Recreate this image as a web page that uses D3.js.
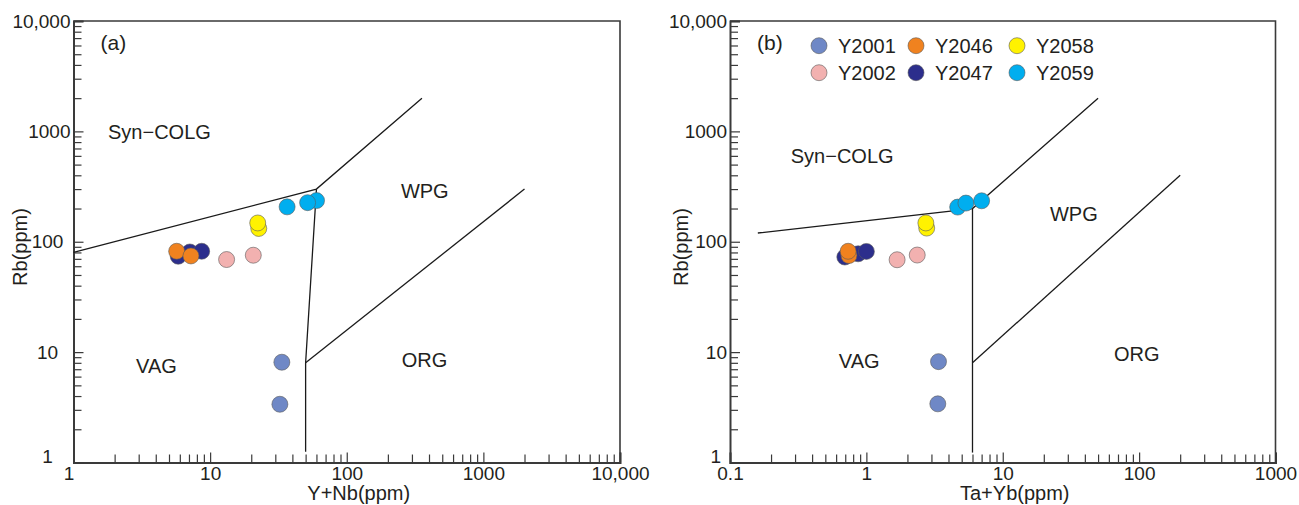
<!DOCTYPE html>
<html>
<head>
<meta charset="utf-8">
<script src="https://cdn.jsdelivr.net/npm/d3@7"></script>
<style>
  html, body { margin: 0; padding: 0; background: #fff; }
  svg { display: block; font-family: "Liberation Sans", Arial, Helvetica, sans-serif; }
  text { fill: #231f20; }
</style>
</head>
<body>
<svg id="chart" width="1299" height="505"></svg>
<script>
// ---- series ----
const seriesNames  = ["Y2001", "Y2002", "Y2046", "Y2047", "Y2058", "Y2059"];
const seriesColors = ["#6f88c6", "#f2b1b0", "#f0821f", "#2c2e8c", "#fff200", "#00aeef"];

// ---- panel (a): Rb vs Y+Nb, in drawing order ----
const aSeries = ["Y2001", "Y2001", "Y2002", "Y2002", "Y2047", "Y2047", "Y2047", "Y2046", "Y2046", "Y2058", "Y2058", "Y2059", "Y2059", "Y2059"];
const aYNb    = [33.5, 32.4, 13.2, 20.7, 5.84, 7.11, 8.67, 5.69, 7.24, 22.7, 22.3, 60.1, 36.6, 51.7];
const aRb     = [8.1, 3.37, 69, 75.5, 73.9, 80.8, 82, 82, 74.4, 132, 148, 236, 207, 226];

// ---- panel (b): Rb vs Ta+Yb, in drawing order ----
const bSeries = ["Y2001", "Y2001", "Y2002", "Y2002", "Y2047", "Y2047", "Y2047", "Y2046", "Y2046", "Y2058", "Y2058", "Y2059", "Y2059", "Y2059"];
const bTaYb   = [3.38, 3.34, 1.68, 2.36, 0.695, 0.87, 1.0, 0.745, 0.735, 2.77, 2.73, 4.67, 5.37, 7.0];
const bRb     = [8.2, 3.4, 68.7, 75.8, 72.7, 77.8, 81.7, 75, 82, 133, 148, 206, 224, 235];

// ---- discrimination boundaries ----
const aLine1X = [1, 60, 355],   aLine1Y = [80, 300, 2000];
const aLine2X = [60, 50, 50],   aLine2Y = [300, 8, 1.25];
const aLine3X = [50, 2000],     aLine3Y = [8, 300];
const bLine1X = [0.16, 6, 50],  bLine1Y = [120, 200, 2000];
const bLine2X = [6, 6, 6],      bLine2Y = [200, 8, 1.23];
const bLine3X = [6, 200],       bLine3Y = [8, 400];

// ---- axis ticks ----
const yTicks       = [1, 10, 100, 1000, 10000];
const yTickLabels  = ["1", "10", "100", "1000", "10,000"];
const aXTicks      = [1, 10, 100, 1000, 10000];
const aXTickLabels = ["1", "10", "100", "1000", "10,000"];
const bXTicks      = [0.1, 1, 10, 100, 1000];
const bXTickLabels = ["0.1", "1", "10", "100", "1000"];

// ---- region names ----
const regionNames = ["Syn\u2212COLG", "WPG", "VAG", "ORG"];

const svg = d3.select("#chart");
const color = d3.scaleOrdinal(seriesNames, seriesColors);

function minorTicks(domain) {
  const out = [];
  const lo = Math.round(Math.log10(domain[0])), hi = Math.round(Math.log10(domain[1]));
  for (let e = lo; e < hi; e++) {
    for (let m = 2; m <= 9; m++) out.push(m * Math.pow(10, e));
  }
  return out;
}

function panel(opt) {
  const x = d3.scaleLog().domain(opt.xDomain).range(opt.xRange);
  const y = d3.scaleLog().domain([1, 10000]).range([462.5, 21]);
  const g = svg.append("g");
  const [x0, x1] = opt.xRange;
  const yb = 462.5, yt = 21;

  // frame (top and right)
  g.append("path")
    .attr("d", `M${x0},${yt}H${x1}V${yb}`)
    .attr("fill", "none").attr("stroke", "#3a3a3a").attr("stroke-width", 1.6);

  // minor ticks
  g.append("g").attr("transform", `translate(0,${yb})`)
    .call(d3.axisBottom(x).tickValues(minorTicks(opt.xDomain)).tickSize(-8).tickFormat(""))
    .call(s => s.select(".domain").remove())
    .selectAll("line").attr("stroke", "#3a3a3a").attr("stroke-width", 1.2);
  g.append("g").attr("transform", `translate(${x0},0)`)
    .call(d3.axisLeft(y).tickValues(minorTicks([1, 10000])).tickSize(-8).tickFormat(""))
    .call(s => s.select(".domain").remove())
    .selectAll("line").attr("stroke", "#3a3a3a").attr("stroke-width", 1.2);

  // major ticks + labels
  const xa = g.append("g").attr("transform", `translate(0,${yb})`)
    .call(d3.axisBottom(x).tickValues(opt.xTicks).tickSize(-10).tickPadding(4)
      .tickFormat((d, i) => opt.xLabels[i]));
  xa.select(".domain").attr("stroke", "#3a3a3a").attr("stroke-width", 2);
  xa.selectAll("line").attr("stroke", "#3a3a3a").attr("stroke-width", 1.2);
  xa.selectAll("text").attr("font-size", 19).attr("fill", "#231f20")
    .attr("font-family", "Liberation Sans, Arial, sans-serif");
  xa.selectAll(".tick").filter((d, i) => i === 0).select("text").attr("dx", opt.originDx);

  const ya = g.append("g").attr("transform", `translate(${x0},0)`)
    .call(d3.axisLeft(y).tickValues(yTicks).tickSize(-10).tickPadding(3)
      .tickFormat((d, i) => yTickLabels[i]));
  ya.select(".domain").attr("stroke", "#3a3a3a").attr("stroke-width", 2);
  ya.selectAll("line").attr("stroke", "#3a3a3a").attr("stroke-width", 1.2);
  ya.selectAll("text").attr("font-size", 19).attr("fill", "#231f20")
    .attr("font-family", "Liberation Sans, Arial, sans-serif");
  opt.yLabelTweak(ya);

  // axis titles
  g.append("text")
    .attr("x", (x0 + x1) / 2 + opt.xTitleDx).attr("y", 500)
    .attr("text-anchor", "middle").attr("font-size", 20)
    .text(opt.xTitle);
  g.append("text")
    .attr("transform", `translate(${opt.yTitleX},247) rotate(-90)`)
    .attr("text-anchor", "middle").attr("font-size", 20)
    .text("Rb(ppm)");

  // panel letter
  g.append("text").attr("x", x0 + 27).attr("y", 50).attr("font-size", 21).text(opt.letter);

  // boundaries
  const line = d3.line().x(d => x(d[0])).y(d => y(d[1]));
  opt.lines.forEach(([lx, ly]) => {
    g.append("path")
      .attr("d", line(lx.map((v, i) => [v, ly[i]])))
      .attr("fill", "none").attr("stroke", "#1a1a1a").attr("stroke-width", 1.3);
  });

  // region names
  opt.regions.forEach(([name, vx, vy]) => {
    g.append("text").attr("x", x(vx)).attr("y", y(vy)).attr("dy", "0.36em")
      .attr("font-size", 20).text(name);
  });

  // samples
  g.append("g").selectAll("circle")
    .data(opt.series.map((s, i) => ({ s, vx: opt.xs[i], vy: opt.ys[i] })))
    .join("circle")
    .attr("cx", d => x(d.vx)).attr("cy", d => y(d.vy)).attr("r", 8)
    .attr("fill", d => color(d.s))
    .attr("stroke", "#5a5a5a").attr("stroke-width", 0.6);

  return { g, x, y, x0 };
}

// (a) Rb – (Y+Nb)
panel({
  xDomain: [1, 10000], xRange: [73.5, 620], xTicks: aXTicks, xLabels: aXTickLabels,
  originDx: -5, xTitle: "Y+Nb(ppm)", xTitleDx: 12, yTitleX: 27, letter: "(a)",
  yLabelTweak: ya => {
    ya.selectAll(".tick").filter(d => d < 1000).select("text")
      .attr("text-anchor", "middle").attr("x", -26);
    ya.selectAll(".tick").filter(d => d === 1).select("text").attr("dy", "0.0em");
  },
  lines: [[aLine1X, aLine1Y], [aLine2X, aLine2Y], [aLine3X, aLine3Y]],
  regions: [[regionNames[0], 1.79, 1000], [regionNames[1], 249, 287], [regionNames[2], 2.87, 7.45], [regionNames[3], 253, 8.6]],
  series: aSeries, xs: aYNb, ys: aRb
});

// (b) Rb – (Ta+Yb)
const pb = panel({
  xDomain: [0.1, 1000], xRange: [730, 1275.5], xTicks: bXTicks, xLabels: bXTickLabels,
  originDx: 0, xTitle: "Ta+Yb(ppm)", xTitleDx: 12, yTitleX: 688, letter: "(b)",
  yLabelTweak: ya => {
    ya.selectAll(".tick").filter(d => d === 1).select("text").attr("dx", -6).attr("dy", "0.0em");
  },
  lines: [[bLine1X, bLine1Y], [bLine2X, bLine2Y], [bLine3X, bLine3Y]],
  regions: [[regionNames[0], 0.279, 600], [regionNames[1], 22.2, 179], [regionNames[2], 0.628, 8.4], [regionNames[3], 65.3, 9.7]],
  series: bSeries, xs: bTaYb, ys: bRb
});

// legend (three columns of two)
const legend = pb.g.append("g").attr("transform", `translate(${pb.x0 + 89},45.7)`);
seriesNames.forEach((name, i) => {
  const col = Math.floor(i / 2), row = i % 2;
  const item = legend.append("g").attr("transform", `translate(${[0, 97, 198][col]},${row * 27})`);
  item.append("circle").attr("r", 8).attr("fill", color(name))
    .attr("stroke", "#5a5a5a").attr("stroke-width", 0.6);
  item.append("text").attr("x", 19).attr("dy", "0.36em").attr("font-size", 20).text(name);
});
</script>
</body>
</html>
